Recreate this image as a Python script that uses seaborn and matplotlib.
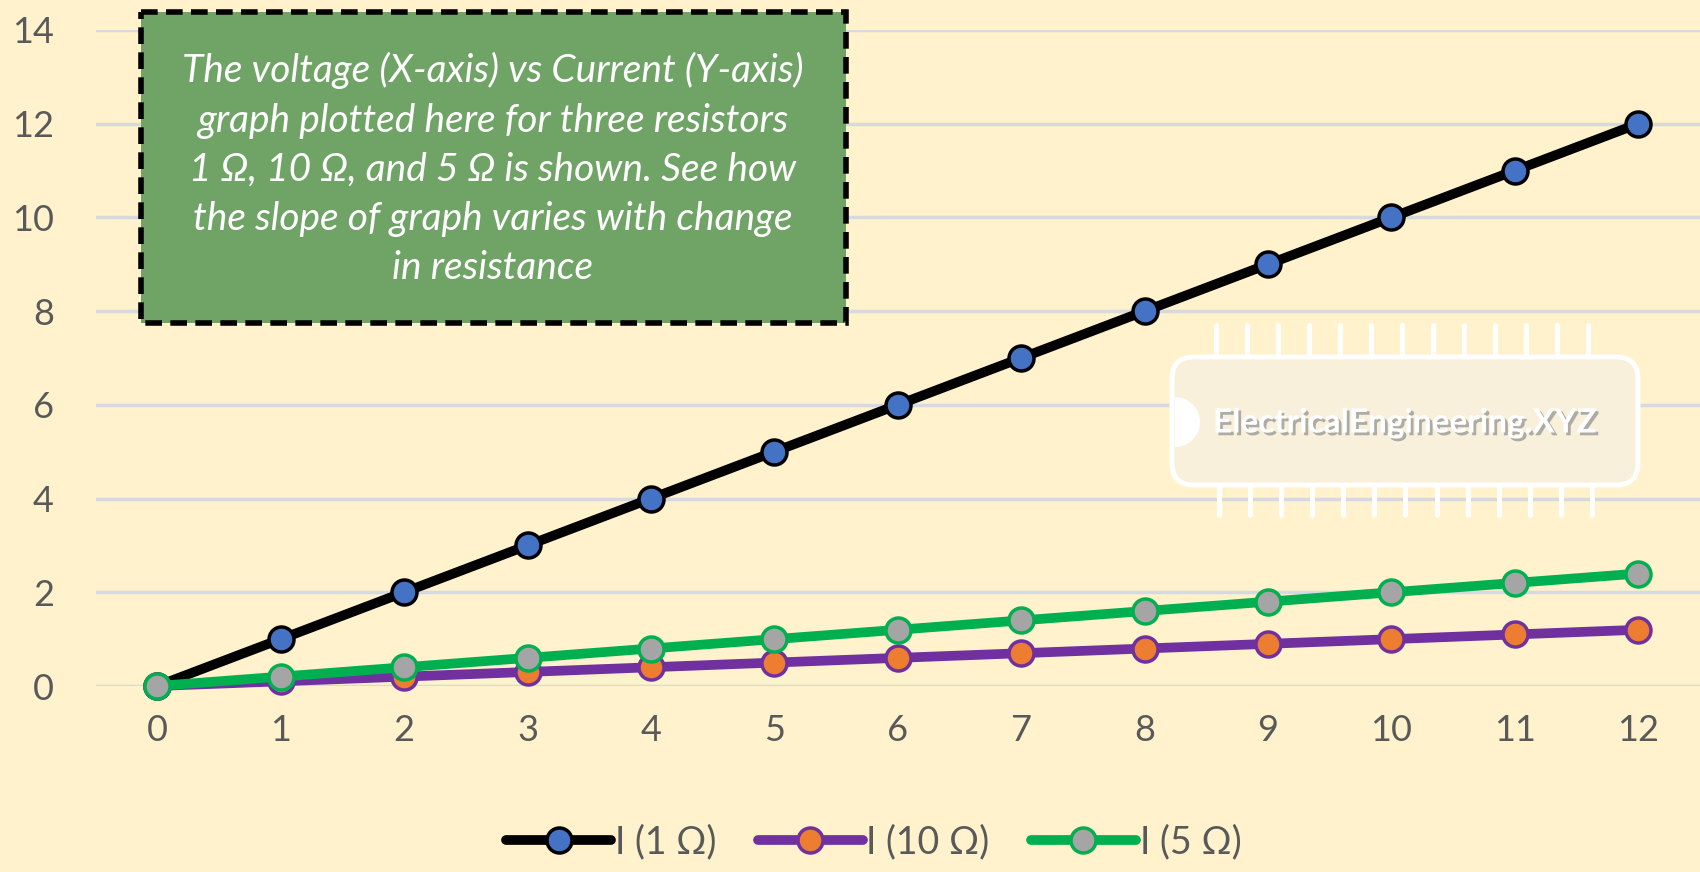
import numpy as np
import pandas as pd
import seaborn as sns
import matplotlib.pyplot as plt
from matplotlib.patches import Rectangle, FancyBboxPatch, Wedge
import matplotlib.patheffects as pe

voltage = [0, 1, 2, 3, 4, 5, 6, 7, 8, 9, 10, 11, 12]
i_1ohm = [0, 1, 2, 3, 4, 5, 6, 7, 8, 9, 10, 11, 12]
i_10ohm = [0, 0.1, 0.2, 0.3, 0.4, 0.5, 0.6, 0.7, 0.8, 0.9, 1.0, 1.1, 1.2]
i_5ohm = [0, 0.2, 0.4, 0.6, 0.8, 1.0, 1.2, 1.4, 1.6, 1.8, 2.0, 2.2, 2.4]
labels = ["I (1 Ω)", "I (10 Ω)", "I (5 Ω)"]
note = ("The voltage (X-axis) vs Current (Y-axis)\n"
        "graph plotted here for three resistors\n"
        "1 Ω, 10 Ω, and 5 Ω is shown. See how\n"
        "the slope of graph varies with change\n"
        "in resistance")

bg = "#FFF2CC"
sns.set_style("white", {"axes.facecolor": bg, "figure.facecolor": bg})
plt.rcParams["font.family"] = ["Lato", "DejaVu Sans"]

df = pd.DataFrame({"V": voltage, "I1": i_1ohm, "I10": i_10ohm, "I5": i_5ohm})

fig = plt.figure(figsize=(17, 8.72), dpi=100)
ax = fig.add_axes([0.0562, 0.2133, 0.9438, 0.7523])

styles = [
    ("I1", "#000000", "#4472C4", "#000000"),
    ("I10", "#7030A0", "#ED7D31", "#7030A0"),
    ("I5", "#00B050", "#A5A5A5", "#00B050"),
]
for (col, lc, fc, ec), lab in zip(styles, labels):
    sns.lineplot(data=df, x="V", y=col, ax=ax, color=lc, linewidth=7,
                 marker="o", markersize=18, markerfacecolor=fc,
                 markeredgecolor=ec, markeredgewidth=2.5, label=lab)

ax.set_xlim(-0.5, 12.5)
ax.set_xticks(voltage)
ax.set_yticks(np.arange(0, 15, 2))
ax.set_ylim(0, 14)
ax.grid(axis="y", color="#D6D9E0", linewidth=2.5)
ax.set_axisbelow(True)
for s in ax.spines.values():
    s.set_visible(False)
ax.tick_params(length=0, labelsize=26, labelcolor="#595959")
ax.tick_params(axis="y", pad=30)
ax.tick_params(axis="x", pad=20)
ax.set_xlabel("")
ax.set_ylabel("")
for ln in ax.lines:
    ln.set_clip_on(False)

handles, labs = ax.get_legend_handles_labels()
ax.get_legend().remove()
fig.legend(handles, labs, loc="center", bbox_to_anchor=(0.514, 0.034), ncol=3,
           frameon=False, fontsize=27, labelcolor="#595959", handlelength=2.8,
           handletextpad=0.1, columnspacing=1.1)

# overlay in pixel coordinates for the note box and watermark
ov = fig.add_axes([0, 0, 1, 1], facecolor="none")
ov.set_xlim(0, 1700)
ov.set_ylim(872, 0)
ov.axis("off")

ov.add_patch(Rectangle((141, 12), 705, 311, facecolor="#70A466", edgecolor="black",
                       linewidth=4, linestyle=(0, (3, 1.5)), zorder=5))
ov.text(493, 169, note, ha="center", va="center", color="white", fontsize=28,
        style="italic", linespacing=1.45, zorder=6,
        family=["Lato", "DejaVu Sans"])

ov.add_patch(FancyBboxPatch((1172, 357), 466, 128,
                            boxstyle="round,pad=0,rounding_size=22",
                            facecolor="#F8F0DA", edgecolor="white", linewidth=3.5,
                            zorder=3))
for x in np.linspace(1216, 1588, 13):
    ov.plot([x, x], [325, 355], color="white", linewidth=3.5, zorder=3)
for x in np.linspace(1219, 1592, 13):
    ov.plot([x, x], [487, 515], color="white", linewidth=3.5, zorder=3)
ov.add_patch(Wedge((1175, 422), 25, 270, 90, facecolor="white", edgecolor="none", zorder=4))
ov.text(1405, 423, "ElectricalEngineering.XYZ", ha="center", va="center",
        color="white", fontsize=24, fontweight="bold", zorder=4,
        path_effects=[pe.SimplePatchShadow(offset=(2, -2), shadow_rgbFace="#9A9A9A", alpha=0.8),
                      pe.Normal()])

fig.savefig("out.png", dpi=100, facecolor=bg)
